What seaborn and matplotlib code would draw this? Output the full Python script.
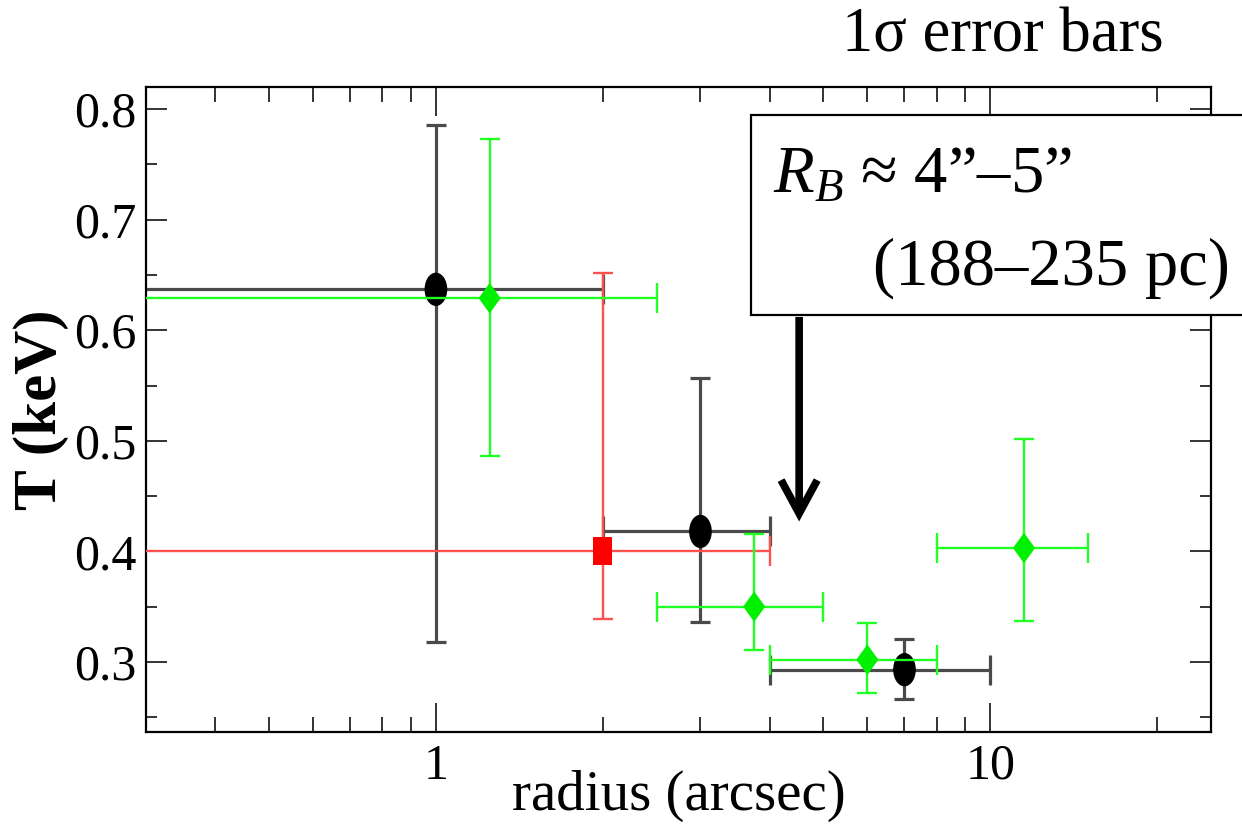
import numpy as np
import pandas as pd
import matplotlib
matplotlib.use("Agg")
import matplotlib.pyplot as plt
from matplotlib.path import Path
from matplotlib.patches import Rectangle
from matplotlib.ticker import LogLocator, MultipleLocator, FixedLocator, NullFormatter, FormatStrFormatter
import seaborn as sns

# ---------------- data ----------------
black_r = [1.0, 3.0, 7.0]
black_rlo = [0.0, 2.0, 4.0]
black_rhi = [2.0, 4.0, 10.0]
black_T = [0.637, 0.418, 0.293]
black_Tlo = [0.318, 0.336, 0.266]
black_Thi = [0.786, 0.557, 0.321]

red_r = [2.0]
red_rlo = [0.0]
red_rhi = [4.0]
red_T = [0.400]
red_Tlo = [0.339]
red_Thi = [0.652]

green_r = [1.25, 3.75, 6.0, 11.5]
green_rlo = [0.0, 2.5, 4.0, 8.0]
green_rhi = [2.5, 5.0, 8.0, 15.0]
green_T = [0.629, 0.350, 0.302, 0.403]
green_Tlo = [0.486, 0.311, 0.272, 0.337]
green_Thi = [0.773, 0.416, 0.335, 0.502]

x_ticks = [1, 10]
x_ticklabels = ["1", "10"]
y_ticks = [0.3, 0.4, 0.5, 0.6, 0.7, 0.8]

bondi_r = 4.52          # arrow position (arcsec)
bondi_T_tip = 0.427
bondi_T_start = 0.612

title_text = "1σ error bars"
box_line1 = r"$R_B$ ≈ 4”–5”"
box_line2 = "(188–235 pc)"

# ---------------- style ----------------
sns.set_theme(style="ticks")
plt.rcParams["font.family"] = ["Liberation Serif", "DejaVu Serif"]
plt.rcParams["mathtext.fontset"] = "custom"
plt.rcParams["mathtext.rm"] = "Liberation Serif"
plt.rcParams["mathtext.it"] = "Liberation Serif:italic"

W, H = 1242, 838
fig = plt.figure(figsize=(W / 100, H / 100), dpi=100)
fig.patch.set_facecolor("white")
ax = fig.add_axes([146 / W, 1 - 732 / H, (1211 - 146) / W, (732 - 87) / H])
ax.set_facecolor("white")
ax.set_xscale("log", nonpositive="clip")


def marker_path(kind, aspect):
    if kind == "ellipse":
        p = Path.unit_circle()
        v = p.vertices.copy()
        v[:, 0] *= aspect
        return Path(v, p.codes)
    if kind == "diamond":
        v = np.array([[0, 1], [aspect, 0], [0, -1], [-aspect, 0], [0, 1]], float)
        return Path(v, [Path.MOVETO, Path.LINETO, Path.LINETO, Path.LINETO, Path.CLOSEPOLY])
    v = np.array([[-aspect, -1], [aspect, -1], [aspect, 1], [-aspect, 1], [-aspect, -1]], float)
    return Path(v, [Path.MOVETO, Path.LINETO, Path.LINETO, Path.LINETO, Path.CLOSEPOLY])


series = [
    dict(r=black_r, rlo=black_rlo, rhi=black_rhi, T=black_T, Tlo=black_Tlo, Thi=black_Thi,
         line="#4a4a4a", face="#000000", lw=2.3, marker=marker_path("ellipse", 0.68), ms=24),
    dict(r=red_r, rlo=red_rlo, rhi=red_rhi, T=red_T, Tlo=red_Tlo, Thi=red_Thi,
         line="#ff5050", face="#ff0000", lw=1.7, marker=marker_path("rect", 0.68), ms=20),
    dict(r=green_r, rlo=green_rlo, rhi=green_rhi, T=green_T, Tlo=green_Tlo, Thi=green_Thi,
         line="#22ff22", face="#00f000", lw=1.7, marker=marker_path("diamond", 0.72), ms=22),
]

z = 2
for s in series:
    df = pd.DataFrame({"r": s["r"], "T": s["T"]})
    r = np.array(s["r"]); T = np.array(s["T"])
    xerr = [r - np.array(s["rlo"]), np.array(s["rhi"]) - r]
    yerr = [T - np.array(s["Tlo"]), np.array(s["Thi"]) - T]
    ax.errorbar(r, T, xerr=xerr, fmt="none", ecolor=s["line"], elinewidth=s["lw"],
                capsize=11, capthick=s["lw"], zorder=z)
    ax.errorbar(r, T, yerr=yerr, fmt="none", ecolor=s["line"], elinewidth=s["lw"],
                capsize=7, capthick=s["lw"], zorder=z)
    sns.scatterplot(data=df, x="r", y="T", ax=ax, marker=s["marker"], s=s["ms"] ** 2,
                    color=s["face"], edgecolor="none", linewidth=0, zorder=z + 1, legend=False)
    z += 2

# ---------------- axes ----------------
ax.set_xlim(0.3, 25)
ax.set_ylim(0.2366, 0.82)
ax.xaxis.set_major_locator(FixedLocator(x_ticks))
ax.set_xticklabels(x_ticklabels)
ax.xaxis.set_minor_locator(LogLocator(base=10, subs=np.arange(2, 10)))
ax.xaxis.set_minor_formatter(NullFormatter())
ax.yaxis.set_major_locator(FixedLocator(y_ticks))
ax.yaxis.set_major_formatter(FormatStrFormatter("%.1f"))
ax.yaxis.set_minor_locator(MultipleLocator(0.05))

for sp in ax.spines.values():
    sp.set_visible(True)
    sp.set_color("black")
    sp.set_linewidth(1.6)

ax.tick_params(axis="both", which="both", direction="in", top=True, right=True,
               color="#333333", width=1.4, labelcolor="black")
ax.tick_params(axis="x", which="major", length=21, labelsize=36, pad=8)
ax.tick_params(axis="x", which="minor", length=11)
ax.tick_params(axis="y", which="major", length=15, labelsize=36, pad=7)
ax.tick_params(axis="y", which="minor", length=8)

ax.set_xlabel("radius (arcsec)", fontsize=41, color="black")
ax.set_ylabel("T (keV)", fontsize=44, fontweight="bold", color="black")
ax.xaxis.set_label_coords(0.5, -0.058)
ax.yaxis.set_label_coords(-0.072, 0.5)
ax.grid(False)

# ---------------- annotations ----------------
fig.text(842 / W, 1 - 52 / H, title_text, fontsize=45, ha="left", va="baseline", color="black")

box = Rectangle((751 / W, 1 - 315 / H), (1270 - 751) / W, 200 / H, transform=fig.transFigure,
                facecolor="white", edgecolor="black", linewidth=1.6, zorder=10, clip_on=False)
fig.add_artist(box)
fig.text(773 / W, 1 - 193 / H, box_line1, fontsize=48, ha="left", va="baseline",
         color="black", zorder=11)
fig.text(873 / W, 1 - 285 / H, box_line2, fontsize=48, ha="left", va="baseline",
         color="black", zorder=11)

ax.annotate("", xy=(bondi_r, bondi_T_tip), xytext=(bondi_r, bondi_T_start),
            xycoords="data", textcoords="data", annotation_clip=False,
            arrowprops=dict(arrowstyle="->,head_length=1.2,head_width=0.65", color="black",
                            lw=5.5, shrinkA=0, shrinkB=0, mutation_scale=20,
                            joinstyle="miter", capstyle="butt"), zorder=12)

fig.savefig("out.png", dpi=100, facecolor="white")
